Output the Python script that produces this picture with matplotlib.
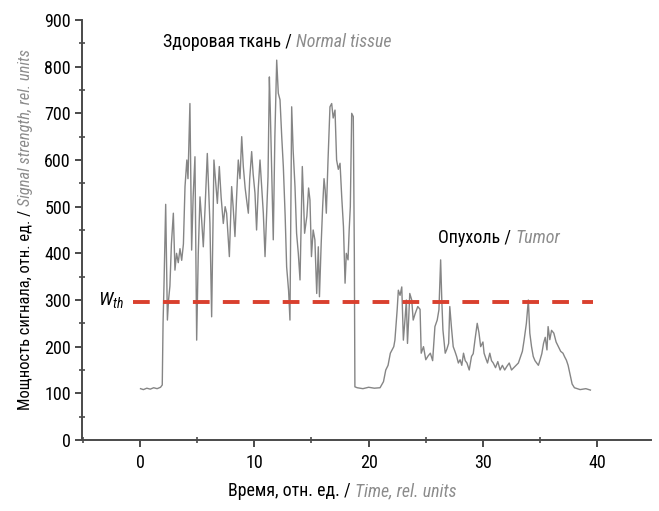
import numpy as np
import matplotlib
matplotlib.use('Agg')
import matplotlib.pyplot as plt
from matplotlib import font_manager
from matplotlib.font_manager import FontProperties
from matplotlib.ticker import MultipleLocator

# Pick a narrow font if we have one
names = sorted(set(f.name for f in font_manager.fontManager.ttflist))
STRETCH = 'normal'
FONT = None
for cand in ['Liberation Sans Narrow', 'Roboto Condensed', 'Open Sans Condensed', 'Noto Sans Condensed']:
    if cand in names:
        FONT = cand
        break
if FONT is None:
    for fam in ['DejaVu Sans', 'Noto Sans', 'Open Sans', 'Roboto']:
        path = font_manager.findfont(FontProperties(family=fam, stretch='condensed'))
        if 'ondensed' in path or 'Narrow' in path:
            FONT, STRETCH = fam, 'condensed'
            break
if FONT is None:
    FONT = 'DejaVu Sans'
plt.rcParams['font.family'] = [FONT, 'DejaVu Sans']
plt.rcParams['font.stretch'] = STRETCH
plt.rcParams['mathtext.fontset'] = 'custom'
plt.rcParams['mathtext.it'] = FONT + ':italic'
plt.rcParams['mathtext.rm'] = FONT

# signal: time (rel. units), power (rel. units)
t_healthy = [0.05, 0.3, 0.6, 0.9, 1.2, 1.5, 1.8, 1.95,
             2.02, 2.1, 2.25, 2.4, 2.5, 2.62, 2.75, 2.92, 3.06, 3.2, 3.35, 3.5,
             3.65, 3.8, 3.94, 4.1, 4.2, 4.37, 4.52, 4.65, 4.81, 4.96, 5.1, 5.25,
             5.4, 5.54, 5.7, 5.89, 6.0, 6.12, 6.27, 6.47, 6.6, 6.77, 6.94, 7.1,
             7.29, 7.45, 7.58, 7.82, 8.02, 8.15, 8.31, 8.45, 8.6, 8.75, 8.9, 9.04,
             9.2, 9.33, 9.48, 9.6, 9.77, 9.9, 10.06, 10.2, 10.35, 10.5, 10.65,
             10.79, 10.94, 11.1, 11.2, 11.32, 11.4, 11.5, 11.66, 11.8, 11.96, 12.1,
             12.25, 12.4, 12.54, 12.7, 12.83, 13.0, 13.12, 13.27, 13.4, 13.56,
             13.7, 13.85, 14.0, 14.2, 14.3, 14.4, 14.6, 14.75, 14.87, 15.0, 15.15,
             15.3, 15.46, 15.6, 15.7, 15.85, 15.98, 16.1, 16.2, 16.3, 16.45, 16.62,
             16.77, 16.9, 17.06, 17.2, 17.35, 17.5, 17.65, 17.8, 17.94, 18.05,
             18.2, 18.3, 18.4, 18.52, 18.66, 18.75, 18.8]
p_healthy = [110, 108, 111, 109, 112, 110, 113, 118,
             250, 330, 505, 257, 300, 330, 420, 486, 364, 400, 380, 410,
             385, 420, 543, 600, 560, 721, 407, 520, 607, 214, 400, 521,
             470, 414, 500, 614, 540, 464, 264, 600, 560, 507, 586, 520,
             464, 500, 486, 393, 543, 500, 436, 520, 600, 560, 650, 586,
             540, 514, 486, 560, 618, 570, 529, 450, 540, 600, 540,
             486, 393, 500, 564, 778, 707, 600, 429, 650, 814, 743,
             729, 650, 586, 480, 371, 320, 257, 714, 620, 543,
             443, 400, 343, 586, 520, 443, 480, 540, 514, 393, 450,
             429, 314, 414, 307, 420, 500, 560, 536, 486, 600, 714,
             721, 690, 707, 600, 580, 593, 520, 457, 336, 400,
             386, 450, 500, 700, 693, 400, 114]
t_tumor = [19.0, 19.5, 20.0, 20.5, 21.0, 21.3, 21.5, 21.7, 21.9, 22.2, 22.3,
           22.5, 22.6, 22.75, 22.9, 23.04, 23.2, 23.3, 23.4, 23.5, 23.6, 23.77,
           23.9, 24.06, 24.3, 24.5, 24.6, 24.8, 25.0, 25.2, 25.4, 25.6, 25.8,
           26.0, 26.15, 26.3, 26.4, 26.5, 26.7, 26.85, 27.0, 27.1, 27.25, 27.4,
           27.55, 27.7, 27.85, 28.0, 28.15, 28.3, 28.45, 28.6, 28.8, 29.0, 29.15,
           29.3, 29.5, 29.65, 29.8, 30.0, 30.1, 30.25, 30.4, 30.6, 30.75, 30.9,
           31.1, 31.3, 31.5, 31.7, 31.9, 32.1, 32.3, 32.5, 32.7, 32.9, 33.1,
           33.3, 33.45, 33.6, 33.8, 33.97, 34.1, 34.25, 34.4, 34.55, 34.7, 34.85,
           35.0, 35.15, 35.3, 35.45, 35.6, 35.7, 35.85, 36.0, 36.2, 36.4, 36.6,
           36.8, 37.0, 37.15, 37.3, 37.45, 37.6, 37.8, 38.0, 38.5, 39.0, 39.4]
p_tumor = [112, 110, 113, 111, 112, 125, 150, 160, 186, 200, 214,
           280, 321, 310, 328, 214, 264, 300, 207, 257, 314, 300,
           257, 270, 286, 280, 186, 200, 172, 180, 186, 170, 243,
           257, 279, 386, 300, 236, 186, 195, 207, 286, 240, 200,
           190, 179, 165, 172, 160, 186, 170, 165, 150, 179, 185,
           214, 250, 230, 200, 210, 186, 175, 165, 186, 170, 165,
           155, 168, 150, 160, 150, 158, 165, 150, 155, 160, 165,
           179, 190, 214, 250, 300, 229, 200, 179, 170, 165, 160,
           172, 185, 207, 220, 193, 243, 215, 235, 229, 210, 200,
           190, 186, 178, 171, 160, 143, 120, 112, 108, 110, 107]

w_th = 295
w_th_span = [-0.6, 39.6]

W, H = 659, 511
fig = plt.figure(figsize=(W / 100, H / 100), dpi=100)
ax = fig.add_axes([82 / W, 1 - 440 / H, (651 - 82) / W, (440 - 20) / H])

t = t_healthy + t_tumor
p = p_healthy + p_tumor
ax.plot(t, p, color='#858585', lw=1.0, zorder=2)
ax.plot(w_th_span, [w_th, w_th], color='#d9402e', lw=2.8, dashes=(4.3, 3.4), zorder=3)

ax.set_xlim(-5.07, 44.7)
ax.set_ylim(0, 900)
for s in ['top', 'right']:
    ax.spines[s].set_visible(False)
for s in ['left', 'bottom']:
    ax.spines[s].set_color('#4a4a4a')
    ax.spines[s].set_linewidth(1.4)
ax.xaxis.set_major_locator(MultipleLocator(10))
ax.xaxis.set_minor_locator(MultipleLocator(5))
ax.yaxis.set_major_locator(MultipleLocator(100))
ax.yaxis.set_minor_locator(MultipleLocator(50))
ax.tick_params(which='major', direction='out', length=5, width=1.4, color='#4a4a4a', labelsize=13)
ax.tick_params(axis='y', which='major', pad=3)
ax.tick_params(axis='x', which='major', pad=5)
ax.tick_params(which='minor', direction='inout', length=4, width=1.2, color='#4a4a4a')

gray = '#8c8c8c'

def px(x, y):
    return x / W, 1 - y / H

fig.canvas.draw()
r = fig.canvas.get_renderer()

def two_tone(x, y, a, b, rot=0, size=13, width=None):
    t1 = fig.text(*px(x, y), a, color='black', fontsize=size, ha='left', va='baseline',
                  rotation=rot, rotation_mode='anchor')
    t2 = fig.text(0, 0, b, color=gray, style='italic', fontsize=size, ha='left', va='baseline',
                  rotation=rot, rotation_mode='anchor')
    # shrink if the pair is longer than in the picture
    if width is not None:
        b1 = t1.get_window_extent(renderer=r)
        b2 = t2.get_window_extent(renderer=r)
        tot = (b1.width + b2.width) if rot == 0 else (b1.height + b2.height)
        if tot > width:
            size = size * width / tot
            t1.set_fontsize(size)
            t2.set_fontsize(size)
    bb = t1.get_window_extent(renderer=r)
    if rot == 0:
        t2.set_position((bb.x1 / W, 1 - y / H))
    else:
        t2.set_position((x / W, bb.y1 / H))

two_tone(163, 47, 'Здоровая ткань / ', 'Normal tissue', width=228)
two_tone(438, 243, 'Опухоль / ', 'Tumor', width=122)
two_tone(228, 496, 'Время, отн. ед. / ', 'Time, rel. units', width=228)
two_tone(30, 410, 'Мощность сигнала, отн. ед. / ', 'Signal strength, rel. units', rot=90, width=362)
fig.text(*px(98, 305), r'$W_{th}$', fontsize=14, ha='left', va='baseline')

fig.savefig('out.png', dpi=100)
